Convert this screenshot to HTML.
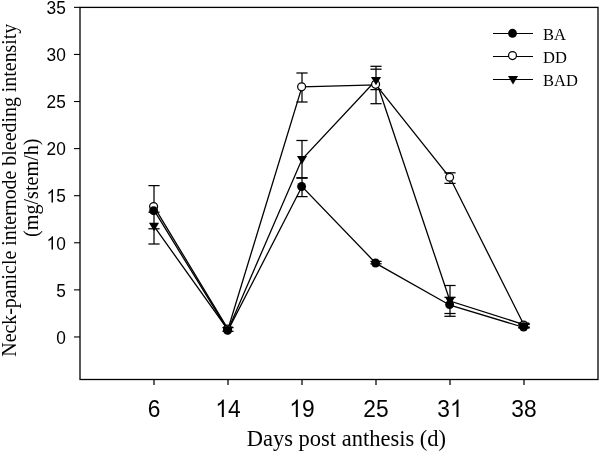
<!DOCTYPE html>
<html><head><meta charset="utf-8"><style>
html,body{margin:0;padding:0;background:#fff;width:600px;height:452px;overflow:hidden;}
svg{display:block;font-family:"Liberation Sans",sans-serif;will-change:transform;}
</style></head><body>
<svg width="600" height="452" viewBox="0 0 600 452"><g stroke="#000" stroke-width="1.3" fill="none">
<rect x="80" y="7.4" width="518" height="372.1"/>
</g>
<g stroke="#000" stroke-width="1.25"><line x1="74" y1="336.95" x2="80" y2="336.95" stroke-width="1.1"/><line x1="74" y1="289.87" x2="80" y2="289.87" stroke-width="1.1"/><line x1="74" y1="242.78" x2="80" y2="242.78" stroke-width="1.1"/><line x1="74" y1="195.69" x2="80" y2="195.69" stroke-width="1.1"/><line x1="74" y1="148.61" x2="80" y2="148.61" stroke-width="1.1"/><line x1="74" y1="101.53" x2="80" y2="101.53" stroke-width="1.1"/><line x1="74" y1="54.44" x2="80" y2="54.44" stroke-width="1.1"/><line x1="74" y1="7.36" x2="80" y2="7.36" stroke-width="1.1"/><line x1="154" y1="379.5" x2="154" y2="385"/><line x1="228" y1="379.5" x2="228" y2="385"/><line x1="302" y1="379.5" x2="302" y2="385"/><line x1="376" y1="379.5" x2="376" y2="385"/><line x1="450" y1="379.5" x2="450" y2="385"/><line x1="524" y1="379.5" x2="524" y2="385"/></g>
<g font-family="Liberation Sans" font-size="18.5" fill="#000"><text transform="translate(56.18,343.70) scale(0.935,1)">0</text><text transform="translate(56.18,296.62) scale(0.935,1)">5</text><path transform="translate(46.56,249.53) scale(0.00845,-0.00903)" d="M763,0 L583,0 L583,1147 Q518,1085 412.5,1023 Q307,961 223,930 L223,1104 Q374,1175 480.5,1270 Q587,1365 647,1466 L763,1466 Z"/><text transform="translate(56.18,249.53) scale(0.935,1)">0</text><path transform="translate(46.56,202.44) scale(0.00845,-0.00903)" d="M763,0 L583,0 L583,1147 Q518,1085 412.5,1023 Q307,961 223,930 L223,1104 Q374,1175 480.5,1270 Q587,1365 647,1466 L763,1466 Z"/><text transform="translate(56.18,202.44) scale(0.935,1)">5</text><text transform="translate(46.56,155.36) scale(0.935,1)">2</text><text transform="translate(56.18,155.36) scale(0.935,1)">0</text><text transform="translate(46.56,108.28) scale(0.935,1)">2</text><text transform="translate(56.18,108.28) scale(0.935,1)">5</text><text transform="translate(46.56,61.19) scale(0.935,1)">3</text><text transform="translate(56.18,61.19) scale(0.935,1)">0</text><text transform="translate(46.56,14.11) scale(0.935,1)">3</text><text transform="translate(56.18,14.11) scale(0.935,1)">5</text></g>
<g font-family="Liberation Sans" font-size="24.2" fill="#000"><text transform="translate(147.67,416.90) scale(0.94,1)">6</text><path transform="translate(215.35,416.90) scale(0.01111,-0.01182)" d="M763,0 L583,0 L583,1147 Q518,1085 412.5,1023 Q307,961 223,930 L223,1104 Q374,1175 480.5,1270 Q587,1365 647,1466 L763,1466 Z"/><text transform="translate(228.00,416.90) scale(0.94,1)">4</text><path transform="translate(289.35,416.90) scale(0.01111,-0.01182)" d="M763,0 L583,0 L583,1147 Q518,1085 412.5,1023 Q307,961 223,930 L223,1104 Q374,1175 480.5,1270 Q587,1365 647,1466 L763,1466 Z"/><text transform="translate(302.00,416.90) scale(0.94,1)">9</text><text transform="translate(363.35,416.90) scale(0.94,1)">2</text><text transform="translate(376.00,416.90) scale(0.94,1)">5</text><text transform="translate(437.35,416.90) scale(0.94,1)">3</text><path transform="translate(450.00,416.90) scale(0.01111,-0.01182)" d="M763,0 L583,0 L583,1147 Q518,1085 412.5,1023 Q307,961 223,930 L223,1104 Q374,1175 480.5,1270 Q587,1365 647,1466 L763,1466 Z"/><text transform="translate(511.35,416.90) scale(0.94,1)">3</text><text transform="translate(524.00,416.90) scale(0.94,1)">8</text></g>
<text x="346.4" y="445.5" text-anchor="middle" font-family="Liberation Serif" font-size="22.5">Days post anthesis (d)</text>
<g font-family="Liberation Serif" font-size="19.9" text-anchor="middle"><text transform="translate(15.8,190.2) rotate(-90)">Neck-panicle internode bleeding intensity</text><text transform="translate(37.9,187.7) rotate(-90)" font-size="20.15">(mg/stem/h)</text></g>
<g stroke="#000" stroke-width="1.25"><line x1="154" y1="185.6" x2="154" y2="244.0"/><line x1="302" y1="73.0" x2="302" y2="102.0"/><line x1="302" y1="140.5" x2="302" y2="177.7"/><line x1="302" y1="178.2" x2="302" y2="196.6"/><line x1="376" y1="66.3" x2="376" y2="103.7"/><line x1="376" y1="261.4" x2="376" y2="263.8"/><line x1="450" y1="172.8" x2="450" y2="183.4"/><line x1="450" y1="285.5" x2="450" y2="316.3"/><line x1="524" y1="323.5" x2="524" y2="328"/><line x1="228" y1="327.6" x2="228" y2="331.3"/></g>
<polyline points="154,206.6 228,329.1 302,86.8 376,84.9 450,177.8 524,325.0" fill="none" stroke="#000" stroke-width="1.3" stroke-linejoin="miter"/>
<polyline points="154,210.2 228,330.4 302,186.5 376,263.4 450,305.2 524,327.5" fill="none" stroke="#000" stroke-width="1.3" stroke-linejoin="miter"/>
<polyline points="154,226.2 228,329.9 302,159.3 376,80.3 450,301.0 524,324.6" fill="none" stroke="#000" stroke-width="1.3" stroke-linejoin="miter"/>
<g stroke="#000" stroke-width="1.25"><line x1="148.4" y1="185.6" x2="159.6" y2="185.6"/><line x1="148.4" y1="228.8" x2="159.6" y2="228.8"/><line x1="296.4" y1="73.0" x2="307.6" y2="73.0"/><line x1="296.4" y1="102.0" x2="307.6" y2="102.0"/><line x1="370.4" y1="66.3" x2="381.6" y2="66.3"/><line x1="370.4" y1="103.7" x2="381.6" y2="103.7"/><line x1="444.4" y1="172.8" x2="455.6" y2="172.8"/><line x1="444.4" y1="183.4" x2="455.6" y2="183.4"/><line x1="518.4" y1="323.5" x2="529.6" y2="323.5"/><line x1="518.4" y1="327" x2="529.6" y2="327"/></g>
<g stroke="#000" stroke-width="1.25"><line x1="148.4" y1="212.2" x2="159.6" y2="212.2"/><line x1="222.4" y1="327.6" x2="233.6" y2="327.6"/><line x1="222.4" y1="331.3" x2="233.6" y2="331.3"/><line x1="296.4" y1="178.2" x2="307.6" y2="178.2"/><line x1="296.4" y1="196.6" x2="307.6" y2="196.6"/><line x1="370.4" y1="261.4" x2="381.6" y2="261.4"/><line x1="370.4" y1="263.8" x2="381.6" y2="263.8"/><line x1="444.4" y1="297.3" x2="455.6" y2="297.3"/><line x1="444.4" y1="316.3" x2="455.6" y2="316.3"/><line x1="518.4" y1="324" x2="529.6" y2="324"/><line x1="518.4" y1="327.5" x2="529.6" y2="327.5"/></g>
<g stroke="#000" stroke-width="1.25"><line x1="148.4" y1="244.0" x2="159.6" y2="244.0"/><line x1="296.4" y1="140.5" x2="307.6" y2="140.5"/><line x1="296.4" y1="177.7" x2="307.6" y2="177.7"/><line x1="370.4" y1="69.2" x2="381.6" y2="69.2"/><line x1="370.4" y1="89.6" x2="381.6" y2="89.6"/><line x1="444.4" y1="285.5" x2="455.6" y2="285.5"/><line x1="444.4" y1="313.5" x2="455.6" y2="313.5"/><line x1="518.4" y1="324.5" x2="529.6" y2="324.5"/><line x1="518.4" y1="328" x2="529.6" y2="328"/></g>
<circle cx="153.6" cy="206.6" r="3.95" fill="#fff" stroke="#000" stroke-width="1.25"/>
<circle cx="227.6" cy="329.1" r="3.95" fill="#fff" stroke="#000" stroke-width="1.25"/>
<circle cx="301.6" cy="86.8" r="3.95" fill="#fff" stroke="#000" stroke-width="1.25"/>
<circle cx="375.6" cy="84.3" r="3.95" fill="#fff" stroke="#000" stroke-width="1.25"/>
<circle cx="449.6" cy="177.2" r="3.95" fill="#fff" stroke="#000" stroke-width="1.25"/>
<circle cx="523.6" cy="325.0" r="3.95" fill="#fff" stroke="#000" stroke-width="1.25"/>
<circle cx="153.6" cy="210.7" r="4.45" fill="#000"/>
<circle cx="227.6" cy="330.4" r="4.45" fill="#000"/>
<circle cx="301.6" cy="186.5" r="4.45" fill="#000"/>
<circle cx="375.6" cy="263.0" r="4.45" fill="#000"/>
<circle cx="449.6" cy="304.6" r="4.45" fill="#000"/>
<circle cx="523.6" cy="327.0" r="4.45" fill="#000"/>
<polygon points="148.95,222.80 159.05,222.80 154,231.25" fill="#000"/>
<polygon points="222.95,326.50 233.05,326.50 228,334.95" fill="#000"/>
<polygon points="296.95,155.90 307.05,155.90 302,164.35" fill="#000"/>
<polygon points="370.95,76.90 381.05,76.90 376,85.35" fill="#000"/>
<polygon points="444.95,297.00 455.05,297.00 450,305.45" fill="#000"/>
<polygon points="518.95,322.60 529.05,322.60 524,331.05" fill="#000"/>
<line x1="493" y1="33.5" x2="533" y2="33.5" stroke="#000" stroke-width="1.15"/><circle cx="512.5" cy="33.3" r="4.45" fill="#000"/><text transform="translate(543,39.5) scale(0.956,1)" font-family="Liberation Serif" font-size="17.3">BA</text><line x1="493" y1="56.5" x2="533" y2="56.5" stroke="#000" stroke-width="1.15"/><circle cx="512.5" cy="55.6" r="3.95" fill="#fff" stroke="#000" stroke-width="1.25"/><text transform="translate(543,62.5) scale(0.956,1)" font-family="Liberation Serif" font-size="17.3">DD</text><line x1="493" y1="79.5" x2="533" y2="79.5" stroke="#000" stroke-width="1.15"/><polygon points="507.95,76.00 518.05,76.00 513,84.45" fill="#000"/><text transform="translate(543,85.5) scale(0.956,1)" font-family="Liberation Serif" font-size="17.3">BAD</text></svg>
</body></html>
